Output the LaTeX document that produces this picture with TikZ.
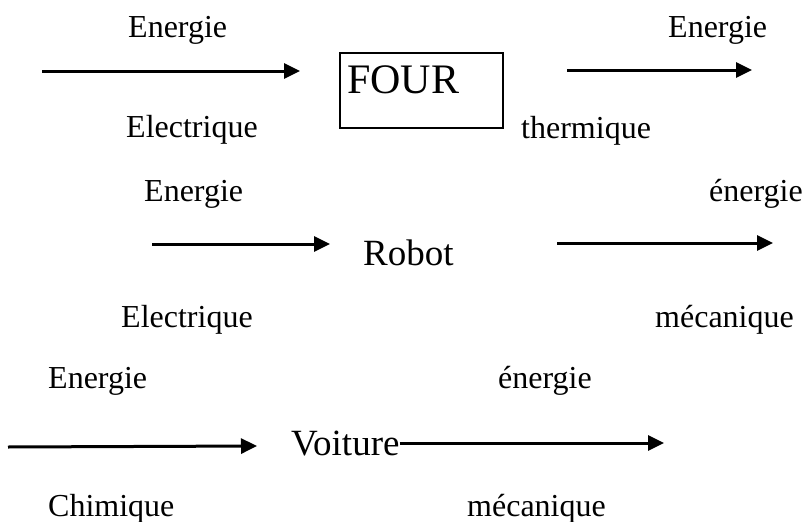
\documentclass[tikz,border=0pt]{standalone}
\usepackage{fontspec}
\setmainfont{Liberation Serif}
\usetikzlibrary{arrows.meta, positioning}

\begin{document}
\begin{tikzpicture}[
    x=1pt, y=-1pt,
    >={Triangle[length=16pt, width=15pt]},
    flow/.style={->, line width=3pt},
    lbl/.style={anchor=base west, inner sep=0pt, font=\fontsize{32}{38}\selectfont},
    machine/.style={anchor=base west, inner sep=0pt, font=\fontsize{37}{44}\selectfont}
  ]
  \useasboundingbox (0,0) rectangle (809,522);

  % ---- FOUR ----
  \node[lbl] (fin1)  at (128,37)  {Energie};
  \node[lbl] (fin2)  at (126,137) {Electrique};
  \coordinate (fa) at (42,71);
  \coordinate (fb) at (300,71);
  \draw[line width=2.5pt] (340,53) rectangle (503,128);
  \node[anchor=base west, inner sep=0pt, font=\fontsize{42}{48}\selectfont] (four) at (347,93) {FOUR};
  \coordinate (fc) at (567,70);
  \coordinate (fd) at (752,70);
  \node[lbl] (fout1) at (668,37)  {Energie};
  \node[lbl] (fout2) at (521,138) {thermique};
  \draw[flow] (fa) -- (fb);
  \draw[flow] (fc) -- (fd);

  % ---- Robot ----
  \node[lbl] (rin1)  at (144,201) {Energie};
  \node[lbl] (rin2)  at (121,327) {Electrique};
  \coordinate (ra) at (152,244);
  \coordinate (rb) at (330,244);
  \node[machine] (robot) at (363,265) {Robot};
  \coordinate (rc) at (557,243);
  \coordinate (rd) at (773,243);
  \node[lbl] (rout1) at (709,201) {énergie};
  \node[lbl] (rout2) at (655,327) {mécanique};
  \draw[flow] (ra) -- (rb);
  \draw[flow] (rc) -- (rd);

  % ---- Voiture ----
  \node[lbl] (vin1)  at (48,388)  {Energie};
  \node[lbl] (vin2)  at (48,516)  {Chimique};
  \coordinate (va) at (8,447);
  \coordinate (vb) at (257,446);
  \node[machine] (voiture) at (291,455) {Voiture};
  \coordinate (vd) at (664,443);
  \node[lbl] (vout1) at (498,388) {énergie};
  \node[lbl] (vout2) at (467,516) {mécanique};
  \draw[flow] (va) -- (vb);
  \draw[flow] (voiture.east |- vd) -- (vd);
\end{tikzpicture}
\end{document}
